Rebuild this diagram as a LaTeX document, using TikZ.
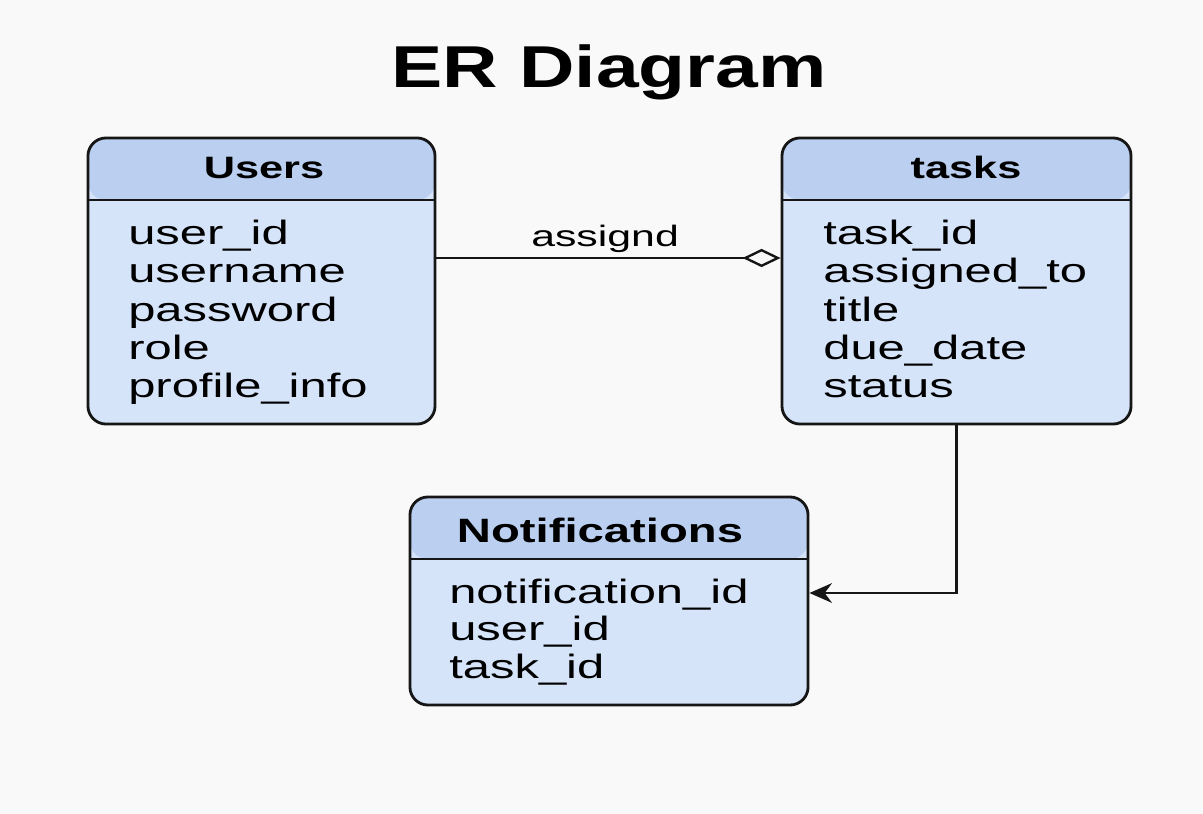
\documentclass[tikz,border=0pt]{standalone}
\usepackage{fontspec}
\setmainfont[FakeStretch=1.45]{Liberation Sans}
\newfontfamily\headfont[FakeStretch=1.4]{Liberation Sans}
\newfontfamily\titlefont[FakeStretch=1.3]{Liberation Sans}
\usepackage{tikz}
\usetikzlibrary{arrows.meta, positioning}

\definecolor{bgcol}{RGB}{249,249,249}
\definecolor{headfill}{RGB}{187,207,240}
\definecolor{bodyfill}{RGB}{214,228,250}
\definecolor{erline}{RGB}{22,22,22}

\tikzset{
  entity/.style={draw=erline, line width=2pt, rounded corners=0.45cm,
    fill=bodyfill, inner sep=0pt,
    path picture={
      \fill[headfill] (path picture bounding box.north west) rectangle
        ([yshift=-1.55cm]path picture bounding box.north east);
      \draw[erline, line width=2pt]
        ([yshift=-1.55cm]path picture bounding box.north west) --
        ([yshift=-1.55cm]path picture bounding box.north east);}},
  headtext/.style={anchor=base, inner sep=0pt, text=black,
    font=\headfont\bfseries\fontsize{22}{26}\selectfont},
  attr/.style={anchor=base west, inner sep=0pt, text=black,
    font=\fontsize{24}{28}\selectfont},
  lbl/.style={inner sep=0pt, text=black, font=\fontsize{21}{25}\selectfont},
  assoc/.style={draw=erline, line width=1.7pt,
    -{Diamond[open, length=27pt, width=13pt]}},
  rel/.style={draw=erline, line width=1.7pt,
    -{Stealth[length=16pt, width=14pt]}},
}

\begin{document}
\begin{tikzpicture}[x=0.025cm, y=-0.025cm]
  \useasboundingbox (0,0) rectangle (1203,814);
  \fill[bgcol] (0,0) rectangle (1203,814);

  % title
  \node[anchor=base, inner sep=0pt, font=\titlefont\bfseries\fontsize{42}{50}\selectfont]
    (title) at (609,88) {ER Diagram};

  % entities
  \node[entity, minimum width=8.675cm, minimum height=7.15cm] (users) at (261.5,281) {};
  \node[entity, minimum width=8.725cm, minimum height=7.15cm] (tasks) at (956.5,281) {};
  \node[entity, minimum width=9.95cm, minimum height=5.2cm] (notif) at (609,601) {};

  \node[headtext] (users-head) at (264,179) {Users};
  \node[headtext] (tasks-head) at (966,179) {tasks};
  \node[headtext, font=\headfont\bfseries\fontsize{24}{28}\selectfont]
    (notif-head) at (600,542) {Notifications};

  \foreach \a [count=\i] in {user\_id, username, password, role, profile\_info}
    \node[attr] (users-\i) at (128,{244.5+38.3*(\i-1)}) {\a};
  \foreach \a [count=\i] in {task\_id, assigned\_to, title, due\_date, status}
    \node[attr] (tasks-\i) at (823,{244.5+38.3*(\i-1)}) {\a};
  \foreach \a [count=\i] in {notification\_id, user\_id, task\_id}
    \node[attr] (notif-\i) at (449,{603+37.5*(\i-1)}) {\a};

  % relations
  \draw[assoc] ([yshift=0.575cm]users.east) -- node[lbl, pos=0.49, above=3pt] (assign-lbl) {assignd}
    ([yshift=0.575cm]tasks.west);
  \draw[rel] (tasks.south) |- ([yshift=0.2cm]notif.east);
\end{tikzpicture}
\end{document}
